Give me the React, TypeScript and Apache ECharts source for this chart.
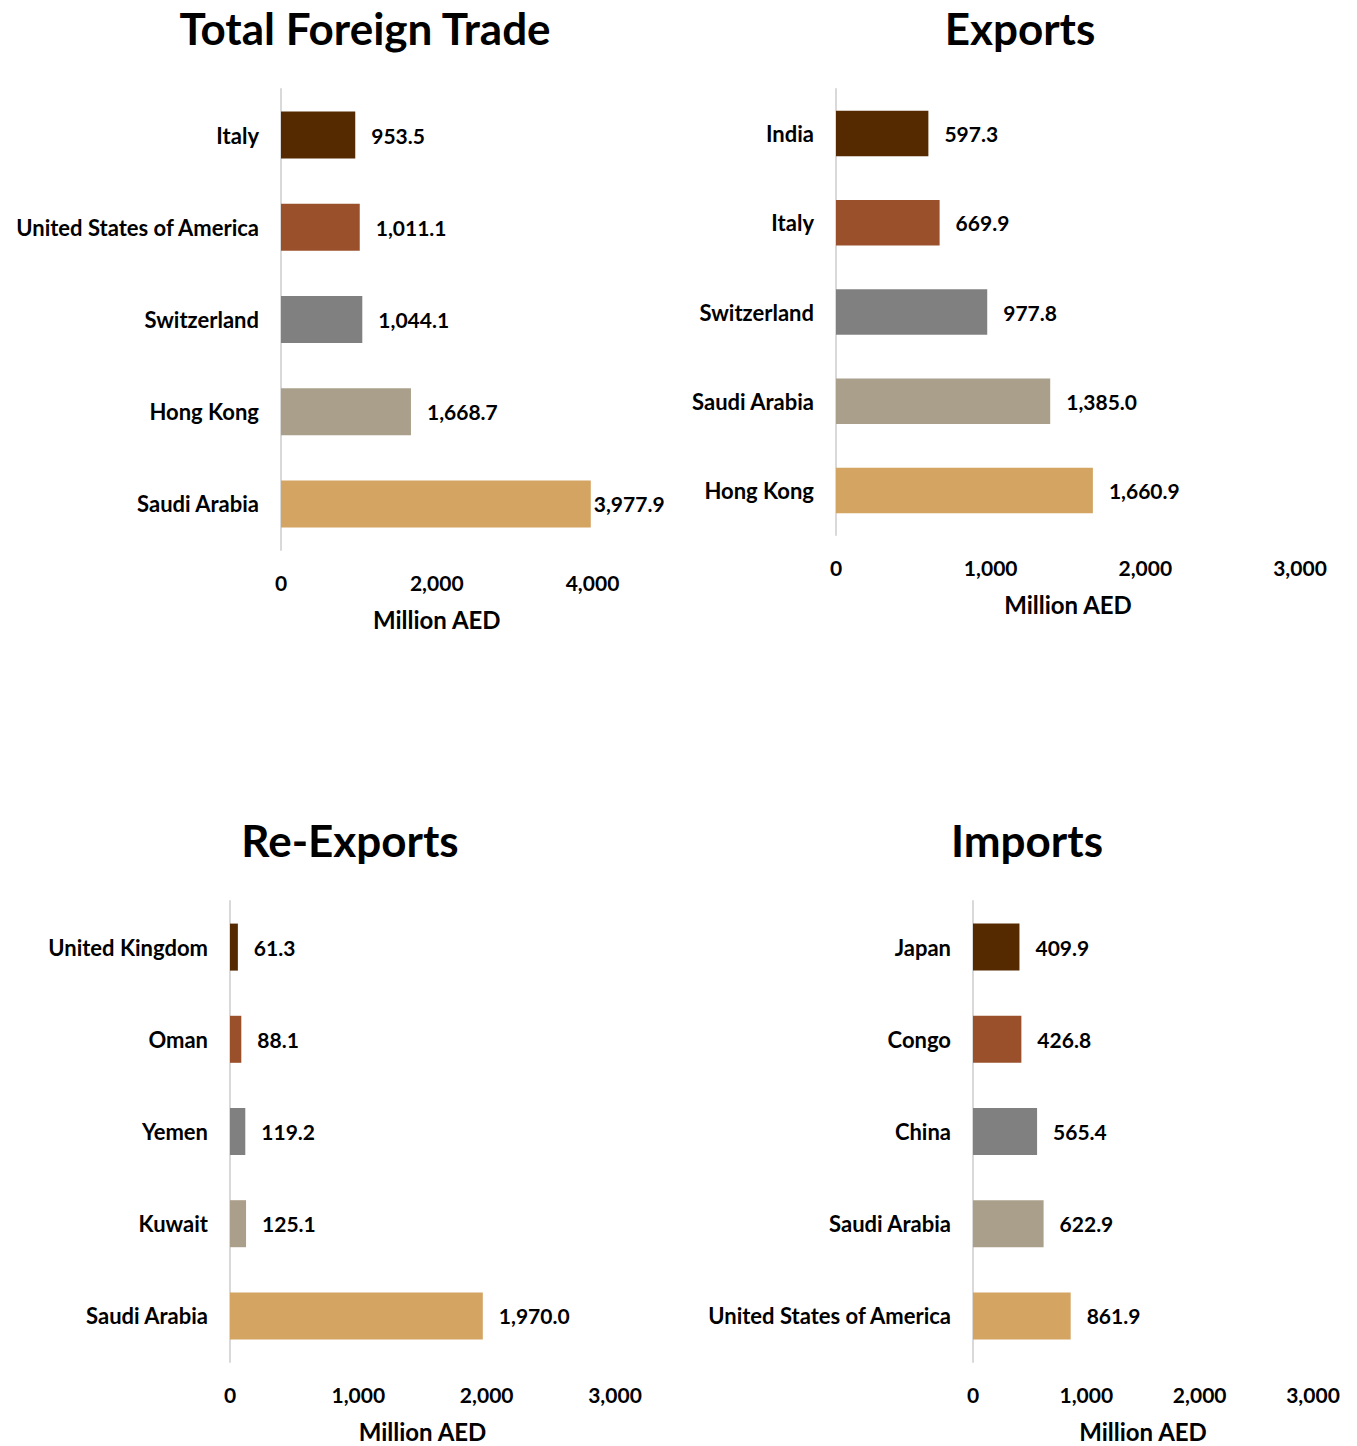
import React, { useEffect, useRef } from "react";
import * as echarts from "echarts";

const COLORS = ["#552A00", "#9B502C", "#808080", "#AA9F8A", "#D4A462"];

const titles = ["Total Foreign Trade", "Exports", "Re-Exports", "Imports"];
const axisName = "Million AED";

const totalCategories = ["Italy", "United States of America", "Switzerland", "Hong Kong", "Saudi Arabia"];
const totalValues = [953.5, 1011.1, 1044.1, 1668.7, 3977.9];

const exportsCategories = ["India", "Italy", "Switzerland", "Saudi Arabia", "Hong Kong"];
const exportsValues = [597.3, 669.9, 977.8, 1385.0, 1660.9];

const reexportsCategories = ["United Kingdom", "Oman", "Yemen", "Kuwait", "Saudi Arabia"];
const reexportsValues = [61.3, 88.1, 119.2, 125.1, 1970.0];

const importsCategories = ["Japan", "Congo", "China", "Saudi Arabia", "United States of America"];
const importsValues = [409.9, 426.8, 565.4, 622.9, 861.9];

const axisMax = [4000, 3000, 3000, 3000];
const axisInterval = [2000, 1000, 1000, 1000];

const FONT = "Lato, 'Noto Sans', sans-serif";

const panels = [
  { cats: totalCategories, vals: totalValues, grid: { left: 281, top: 89, width: 311.5, height: 461 }, title: { x: 365, y: 28 } },
  { cats: exportsCategories, vals: exportsValues, grid: { left: 836, top: 89, width: 464, height: 446 }, title: { x: 1020, y: 28 } },
  { cats: reexportsCategories, vals: reexportsValues, grid: { left: 230, top: 901, width: 385, height: 461 }, title: { x: 350, y: 840 } },
  { cats: importsCategories, vals: importsValues, grid: { left: 973, top: 901, width: 340, height: 461 }, title: { x: 1027, y: 840 } },
];

const fmtAxis = (v: number) => v.toLocaleString("en-US");
const fmtLabel = (v: number) =>
  v.toLocaleString("en-US", { minimumFractionDigits: 1, maximumFractionDigits: 1 });

export default function App() {
  const ref = useRef<HTMLDivElement>(null);

  useEffect(() => {
    document.body.style.margin = "0";
    if (!ref.current) return;
    const chart = echarts.init(ref.current, null, { renderer: "svg" });

    const grid = panels.map((p) => ({ ...p.grid, outerBoundsMode: "none", containLabel: false }));
    const xAxis = panels.map((p, i) => ({
      type: "value",
      gridIndex: i,
      min: 0,
      max: axisMax[i],
      interval: axisInterval[i],
      splitLine: { show: false },
      axisLine: { show: false },
      axisTick: { show: false },
      axisLabel: {
        formatter: fmtAxis,
        fontFamily: FONT,
        fontWeight: "bold",
        fontSize: 21,
        color: "#000",
        margin: 22,
      },
      name: axisName,
      nameLocation: "middle",
      nameGap: 57,
      nameTextStyle: { fontFamily: FONT, fontWeight: "bold", fontSize: 24, color: "#000" },
    }));
    const yAxis = panels.map((p, i) => ({
      type: "category",
      gridIndex: i,
      data: p.cats,
      inverse: true,
      axisLine: { show: true, lineStyle: { color: "#D9D9D9", width: 2 } },
      axisTick: { show: false },
      axisLabel: {
        fontFamily: FONT,
        fontWeight: "bold",
        fontSize: 22,
        color: "#000",
        margin: 22,
      },
    }));
    const series = panels.map((p, i) => ({
      type: "bar",
      xAxisIndex: i,
      yAxisIndex: i,
      barWidth: "51%",
      data: p.vals.map((v, j) => ({
        value: v,
        itemStyle: { color: COLORS[j] },
        label: { distance: v / axisMax[i] > 0.95 ? 3 : 16 },
      })),
      label: {
        show: true,
        position: "right",
        formatter: (d: any) => fmtLabel(d.value),
        fontFamily: FONT,
        fontWeight: "bold",
        fontSize: 21,
        color: "#000",
      },
    }));
    const graphic = panels.map((p, i) => ({
      type: "text",
      x: p.title.x,
      y: p.title.y,
      style: {
        text: titles[i],
        align: "center",
        verticalAlign: "middle",
        fontFamily: FONT,
        fontWeight: "bold",
        fontSize: 44,
        fill: "#000",
      },
    }));

    chart.setOption({
      animation: false,
      backgroundColor: "#fff",
      grid,
      xAxis,
      yAxis,
      series,
      graphic,
    });
    return () => chart.dispose();
  }, []);

  return <div ref={ref} style={{ width: 1357, height: 1446 }} />;
}
